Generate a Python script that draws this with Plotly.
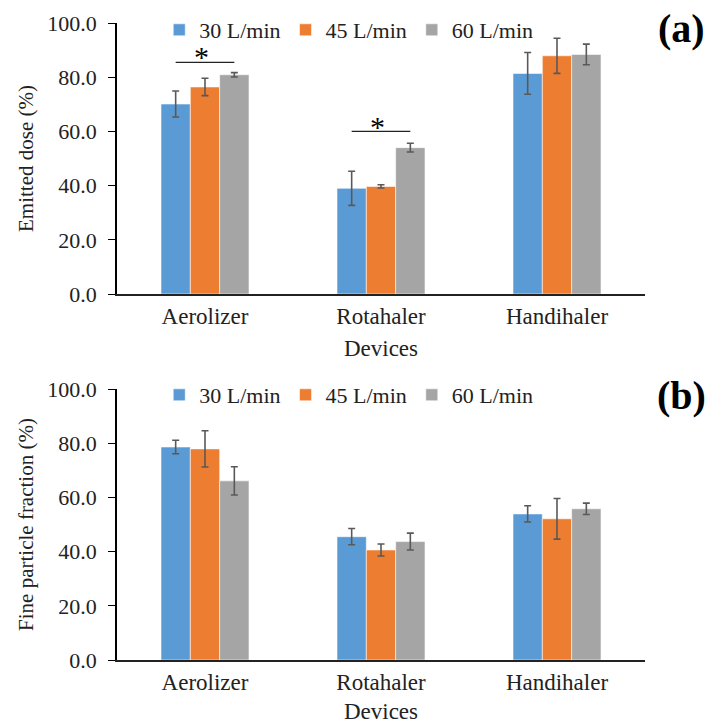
import plotly.graph_objects as go

devices = ["Aerolizer", "Rotahaler", "Handihaler"]
flow_rates = ["30 L/min", "45 L/min", "60 L/min"]
colors = ["#5B9BD5", "#ED7D31", "#A5A5A5"]

# (a) Emitted dose (%)
ed_30 = [70.1, 39.0, 81.4]
ed_45 = [76.4, 39.7, 87.9]
ed_60 = [80.9, 54.0, 88.4]
ed_30_err = [4.8, 6.3, 7.7]
ed_45_err = [3.2, 0.6, 6.5]
ed_60_err = [0.8, 1.6, 3.8]

# (b) Fine particle fraction (%)
fpf_30 = [78.6, 45.5, 53.9]
fpf_45 = [77.9, 40.6, 52.1]
fpf_60 = [66.1, 43.7, 55.8]
fpf_30_err = [2.5, 3.0, 3.0]
fpf_45_err = [6.7, 2.2, 7.5]
fpf_60_err = [5.2, 3.1, 2.1]

# significance markers in panel (a): category index, bracket height, star height
sig_category = [0, 1]
sig_line_y = [85.5, 60.0]
sig_star_y = [87.5, 61.7]

FONT = "Liberation Serif"

fig = go.Figure()

panels = [
    ([ed_30, ed_45, ed_60], [ed_30_err, ed_45_err, ed_60_err], "x", "y", "legend"),
    ([fpf_30, fpf_45, fpf_60], [fpf_30_err, fpf_45_err, fpf_60_err], "x2", "y2", "legend2"),
]
for vals, errs, xa, ya, lg in panels:
    for i in range(3):
        fig.add_trace(go.Bar(
            x=devices, y=vals[i], name=flow_rates[i],
            marker=dict(color=colors[i], line=dict(color="rgba(255,255,255,0.7)", width=0.8)),
            error_y=dict(type="data", array=errs[i], color="#595959", thickness=1.6, width=3.5),
            xaxis=xa, yaxis=ya, legend=lg,
        ))

# significance brackets
bar_off = 1.0 / 6.0
for c, ly, sy in zip(sig_category, sig_line_y, sig_star_y):
    fig.add_shape(type="line", xref="x", yref="y",
                  x0=c - bar_off, x1=c + bar_off, y0=ly, y1=ly,
                  line=dict(color="#222222", width=1.3))
    fig.add_annotation(xref="x", yref="y", x=c - 0.02, y=sy, text="*", showarrow=False,
                       font=dict(family=FONT, size=30, color="#000000"), yanchor="middle")

H = 724.0
def fy(px):
    return (H - px) / H

top_dom = [fy(294), fy(23)]
bot_dom = [fy(660), fy(389)]

yaxis_common = dict(range=[0, 100], dtick=20, tickformat=".1f", showline=True,
                    linecolor="#000000", linewidth=1.5, ticks="outside", ticklen=7,
                    tickcolor="#000000", tickwidth=1.2, showgrid=False, zeroline=False,
                    tickfont=dict(family=FONT, size=22, color="#222222"),
                    ticklabelstandoff=7,
                    title_font=dict(family=FONT, size=21, color="#222222"),
                    title_standoff=8, automargin=False)
xaxis_common = dict(showline=True, linecolor="#222222", linewidth=1.5, ticks="outside",
                    ticklen=1, tickcolor="rgba(0,0,0,0)",
                    tickfont=dict(family=FONT, size=23, color="#222222"),
                    title_font=dict(family=FONT, size=23, color="#222222"),
                    title_standoff=12, showgrid=False, automargin=False)

fig.update_layout(
    width=710, height=724,
    margin=dict(l=117, r=65, t=0, b=0),
    plot_bgcolor="white", paper_bgcolor="white",
    font=dict(family=FONT),
    barmode="group", bargap=0.5, bargroupgap=0,
    xaxis=dict(domain=[0, 1], anchor="y", title_text="Devices", **xaxis_common),
    yaxis=dict(domain=top_dom, anchor="x", title_text="Emitted dose (%)", **yaxis_common),
    xaxis2=dict(domain=[0, 1], anchor="y2", title_text="Devices", **xaxis_common),
    yaxis2=dict(domain=bot_dom, anchor="x2", title_text="Fine particle fraction (%)", **yaxis_common),
    legend=dict(orientation="h", x=0.08, xanchor="left", y=fy(30), yanchor="middle",
                font=dict(family=FONT, size=22, color="#222222"), itemwidth=30,
                bgcolor="rgba(0,0,0,0)", traceorder="normal"),
    legend2=dict(orientation="h", x=0.08, xanchor="left", y=fy(395), yanchor="middle",
                 font=dict(family=FONT, size=22, color="#222222"), itemwidth=30,
                 bgcolor="rgba(0,0,0,0)", traceorder="normal"),
    showlegend=True,
)

fig.add_annotation(xref="paper", yref="paper", x=1.07, y=fy(29), xanchor="center", yanchor="middle",
                   text="<b>(a)</b>", showarrow=False, font=dict(family=FONT, size=40, color="#000000"))
fig.add_annotation(xref="paper", yref="paper", x=1.07, y=fy(395), xanchor="center", yanchor="middle",
                   text="<b>(b)</b>", showarrow=False, font=dict(family=FONT, size=40, color="#000000"))

fig.write_html("out.html")
